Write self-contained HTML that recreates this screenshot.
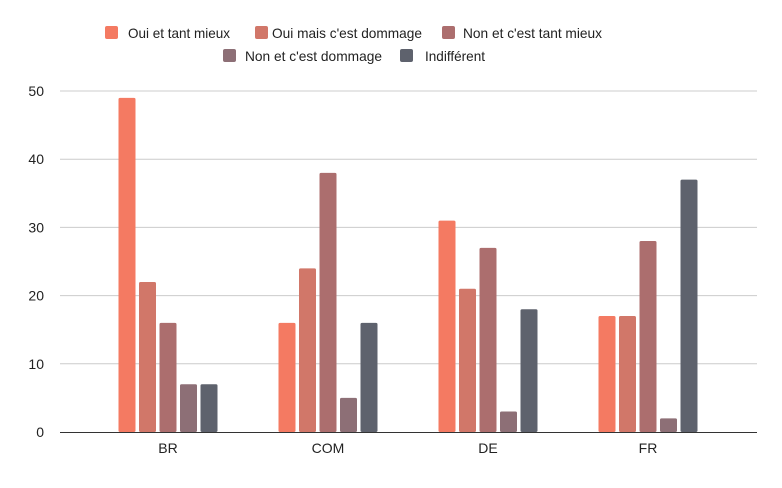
<!DOCTYPE html>
<html><head><meta charset="utf-8"><style>
body{margin:0;background:#fff;font-family:"Liberation Sans",Arial,sans-serif}
svg text{font-family:"Liberation Sans",Arial,sans-serif}
</style></head><body>
<svg id="c" width="782" height="483"></svg>
<script>
const categories=["BR","COM","DE","FR"];
const seriesNames=["Oui et tant mieux","Oui mais c'est dommage","Non et c'est tant mieux","Non et c'est dommage","Indifférent"];
const s1=[49,16,31,17];
const s2=[22,24,21,17];
const s3=[16,38,27,28];
const s4=[7,5,3,2];
const s5=[7,16,18,37];
const yTicks=[0,10,20,30,40,50];
const series=[s1,s2,s3,s4,s5];
const colors=["#f47a62","#d17769","#ac6e6e","#8d6f76","#5e626d"];
const NS="http://www.w3.org/2000/svg";
const svg=document.getElementById('c');
const x0=60,x1=757,yb=432,yt=91,ymax=50;
const y=v=>yb-(yb-yt)*v/ymax;
const gx=i=>168+160*i;
function mk(t,a,p){const e=document.createElementNS(NS,t);for(const k in a)e.setAttribute(k,a[k]);(p||svg).appendChild(e);return e;}
yTicks.forEach(t=>{
 if(t>0){const l=mk('line',{x1:x0,x2:x1,y1:y(t),y2:y(t),stroke:'#cccccc','stroke-width':1});
 
 }
 const tx=mk('text',{x:44,y:y(t)+5,'text-anchor':'end','font-size':14,fill:'#222'});tx.textContent=t;
 
 
});
const bw=17,pitch=20.5;
categories.forEach((c,i)=>{
 series.forEach((s,j)=>{
  const bx=gx(i)+(j-2)*pitch-bw/2;
  const r=mk('rect',{x:bx,y:y(s[i]),width:bw,height:yb-y(s[i]),fill:colors[j],rx:1.5});
  
  
 });
 const tx=mk('text',{x:gx(i),y:453,'text-anchor':'middle','font-size':14,fill:'#222'});tx.textContent=c;
 
 
});
const ax=mk('line',{x1:x0,x2:x1,y1:yb+0.5,y2:yb+0.5,stroke:'#333','stroke-width':1});


const leg=[[105,128,102,33],[255,272,150,33],[442,463,139,33],[223,245,137,56],[400,425,60,56]];
seriesNames.forEach((n,j)=>{
 const g=mk('g',{});
 
 
 mk('rect',{x:leg[j][0],y:leg[j][3]-7,width:13,height:13,fill:colors[j],rx:2},g);
 const t=mk('text',{x:leg[j][1],y:leg[j][3]+5,'font-size':14,fill:'#222',textLength:leg[j][2],lengthAdjust:'spacingAndGlyphs'},g);t.textContent=n;
});
</script>
</body></html>
